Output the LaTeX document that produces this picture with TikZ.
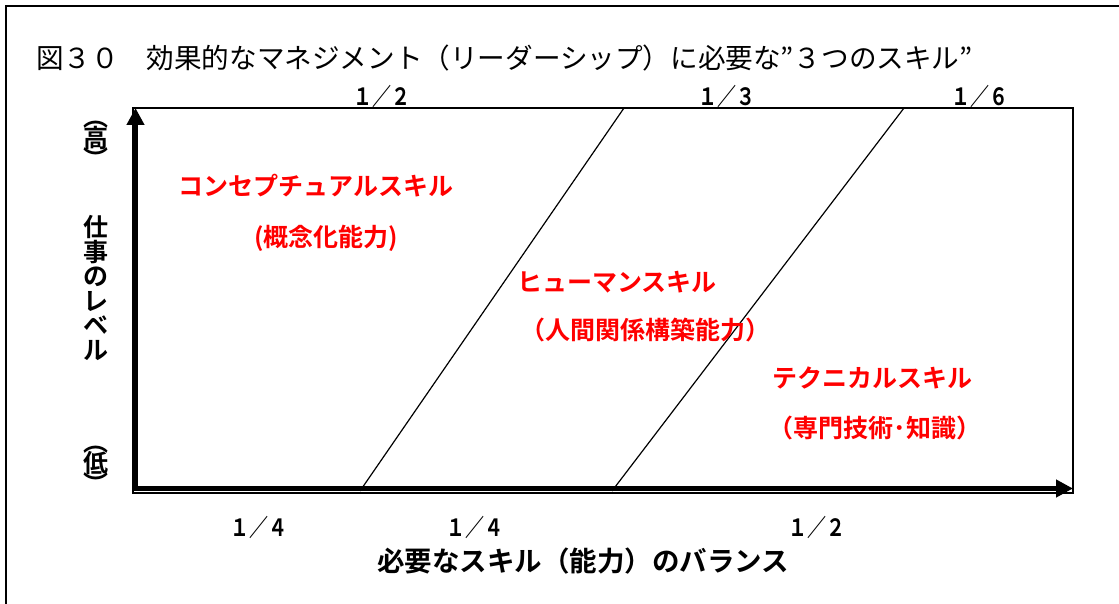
\documentclass[tikz,border=0pt]{standalone}
\usepackage{graphicx}
\usepackage{fontspec}
\setmainfont{Noto Sans CJK JP}[BoldFont={Noto Sans CJK JP Bold}]
\usetikzlibrary{arrows.meta}
\definecolor{skillred}{RGB}{255,0,0}
\newcommand{\fr}[1]{\scalebox{1}[1.25]{#1}}
\tikzset{
  frac/.style={font=\fontsize{19}{19}\selectfont\bfseries, inner sep=0pt},
  skill/.style={font=\fontsize{25}{25}\selectfont\bfseries, text=skillred, inner sep=0pt},
  axislbl/.style={font=\fontsize{25}{25}\selectfont\bfseries, inner sep=0pt},
  thinline/.style={line width=1.2pt},
  axisline/.style={line width=4.5pt, -{Triangle[length=17pt,width=17pt]}},
}
\begin{document}
\begin{tikzpicture}[x=1pt,y=-1pt]
\useasboundingbox (0,0) rectangle (1119,604);
% outer frame (top and left visible)
\draw[line width=2pt] (6,610) -- (6,6) -- (1125,6);
% title
\node[anchor=west, inner sep=0pt, font=\fontsize{27.6}{27.6}\selectfont] (title) at (36,58)
  {図３０　効果的なマネジメント（リーダーシップ）に必要な”３つのスキル”};
% box
\coordinate (bl) at (133,493);
\coordinate (tr) at (1073,108);
\draw[thinline] (bl) rectangle (tr);
% diagonals
\coordinate (d1b) at (360,491);
\coordinate (d1t) at (624,108);
\coordinate (d2b) at (612,491);
\coordinate (d2t) at (904,108);
\draw[thinline] (d1b) -- (d1t);
\draw[thinline] (d2b) -- (d2t);
% axes
\coordinate (ybot) at (135.5,491);
\coordinate (ytop) at (135.5,108);
\coordinate (xbeg) at (133,488.5);
\coordinate (xend) at (1073,488.5);
\draw[axisline] (ybot) -- (ytop);
\draw[axisline] (xbeg) -- (xend);
% top fractions
\node[frac] (t1) at (382,96) {\fr{１／２}};
\node[frac] (t2) at (727,96) {\fr{１／３}};
\node[frac] (t3) at (980,96) {\fr{１／６}};
% bottom fractions
\node[frac] (b1) at (259,527) {\fr{１／４}};
\node[frac] (b2) at (475,527) {\fr{１／４}};
\node[frac] (b3) at (817,527) {\fr{１／２}};
% x axis label
\node[axislbl, font=\fontsize{27.5}{27.5}\selectfont\bfseries] (xl) at (583,561) {必要なスキル（能力）のバランス};
% y axis labels
\node[axislbl] (hio) at (96,125) {︵};
\node[axislbl] (hi) at (96,138) {高};
\node[axislbl] (hic) at (96,158) {︶};
\node[axislbl, align=center, font=\fontsize{25}{24.5}\selectfont\bfseries] (yl) at (96,288) {仕\\事\\の\\レ\\ベ\\ル};
\node[axislbl] (loo) at (96,450) {︵};
\node[axislbl] (lo) at (96,463) {低};
\node[axislbl] (loc) at (96,483) {︶};
% skill labels
\node[skill] (c1) at (316,186) {コンセプチュアルスキル};
\node[skill] (c2) at (326,238) {(概念化能力)};
\node[skill] (h1) at (617,282) {ヒューマンスキル};
\node[skill] (h2) at (645,330) {（人間関係構築能力）};
\node[skill] (k1) at (872,378) {テクニカルスキル};
\node[skill] (k2) at (875,428) {（専門技術･知識）};
\end{tikzpicture}
\end{document}
